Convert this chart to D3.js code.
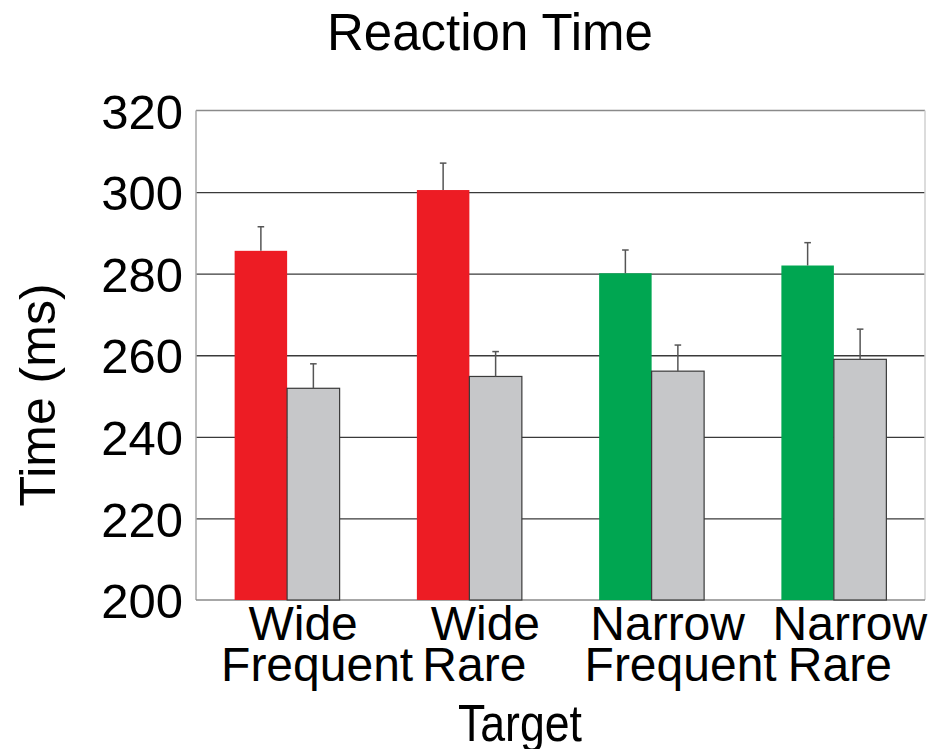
<!DOCTYPE html>
<html>
<head>
<meta charset="utf-8">
<script src="https://cdn.jsdelivr.net/npm/d3@7"></script>
<style>
  html, body { margin: 0; padding: 0; background: #fff; }
  svg { display: block; font-family: "Liberation Sans", Arial, Helvetica, sans-serif; }
</style>
</head>
<body>
<svg id="chart" width="941" height="749"></svg>
<script>
// ---- data ----
const categoryLine1 = ["Wide", "Wide", "Narrow", "Narrow"];
const categoryLine2 = ["Frequent", "Rare", "Frequent", "Rare"];
const targetValues = [285.6, 300.5, 280.1, 282.0];
const targetErrors = [5.9, 6.6, 5.7, 5.6];
const otherValues = [251.9, 254.8, 256.1, 259.0];
const otherErrors = [6.0, 6.1, 6.4, 7.4];
const targetColors = ["#ed1c24", "#ed1c24", "#00a651", "#00a651"];
const yTicks = [200, 220, 240, 260, 280, 300, 320];
const titleText = "Reaction Time";
const yLabelText = "Time (ms)";
const xLabelText = "Target";

// ---- layout ----
const plotLeft = 196, plotRight = 925, plotTop = 110.5, plotBottom = 600;
const line2Dx = [30, 5, 29, 6];

const svg = d3.select("#chart");

const x = d3.scaleBand().domain(d3.range(categoryLine1.length)).range([plotLeft, plotRight]).padding(0);
const xi = d3.scaleBand().domain(["target", "other"]).range([0, x.bandwidth()]).paddingInner(0).paddingOuter(0.736);
const y = d3.scaleLinear().domain([200, 320]).range([plotBottom, plotTop]);

// gridlines
const grid = svg.append("g").attr("transform", `translate(${plotLeft},0)`)
  .call(d3.axisLeft(y).tickValues(yTicks.filter(t => t > 200 && t < 320)).tickSize(-(plotRight - plotLeft)).tickFormat(""));
grid.select(".domain").remove();
grid.selectAll("line").attr("stroke", "#3a3a3a").attr("stroke-width", 1.3);

// frame
svg.append("line").attr("x1", plotLeft).attr("x2", plotRight).attr("y1", y(320)).attr("y2", y(320)).attr("stroke", "#8a8a8a").attr("stroke-width", 1.5);
svg.append("line").attr("x1", plotLeft).attr("x2", plotLeft).attr("y1", y(320)).attr("y2", y(200)).attr("stroke", "#a8a8a8").attr("stroke-width", 1.5);
svg.append("line").attr("x1", plotRight).attr("x2", plotRight).attr("y1", y(320)).attr("y2", y(200)).attr("stroke", "#d0d0d0").attr("stroke-width", 1.5);
svg.append("line").attr("x1", plotLeft).attr("x2", plotRight).attr("y1", y(200)).attr("y2", y(200)).attr("stroke", "#8a8a8a").attr("stroke-width", 1.5);

const rows = d3.range(categoryLine1.length).map(i => ({
  i,
  t: targetValues[i], te: targetErrors[i],
  o: otherValues[i], oe: otherErrors[i],
  c: targetColors[i]
}));

const g = svg.append("g");
// target bars
g.selectAll("rect.t").data(rows).join("rect").attr("class", "t")
  .attr("x", d => x(d.i) + xi("target"))
  .attr("width", xi.bandwidth())
  .attr("y", d => y(d.t))
  .attr("height", d => y(200) - y(d.t))
  .attr("fill", d => d.c);
// other bars
g.selectAll("rect.o").data(rows).join("rect").attr("class", "o")
  .attr("x", d => x(d.i) + xi("other"))
  .attr("width", xi.bandwidth())
  .attr("y", d => y(d.o))
  .attr("height", d => y(200) - y(d.o))
  .attr("fill", "#c6c7c9")
  .attr("stroke", "#3a3a3a")
  .attr("stroke-width", 1.2);

// error bars
const errs = [];
rows.forEach(d => {
  errs.push({ cx: x(d.i) + xi("target") + xi.bandwidth() / 2, v: d.t, e: d.te });
  errs.push({ cx: x(d.i) + xi("other") + xi.bandwidth() / 2, v: d.o, e: d.oe });
});
const eg = g.selectAll("g.err").data(errs).join("g").attr("class", "err");
eg.append("line")
  .attr("x1", d => d.cx).attr("x2", d => d.cx)
  .attr("y1", d => y(d.v)).attr("y2", d => y(d.v + d.e))
  .attr("stroke", "#555").attr("stroke-width", 1.5);
eg.append("line")
  .attr("x1", d => d.cx - 3.3).attr("x2", d => d.cx + 3.3)
  .attr("y1", d => y(d.v + d.e)).attr("y2", d => y(d.v + d.e))
  .attr("stroke", "#555").attr("stroke-width", 1.5);

// y tick labels
const yAxis = svg.append("g").attr("transform", `translate(${plotLeft},0)`)
  .call(d3.axisLeft(y).tickValues(yTicks).tickSize(0).tickPadding(13).tickFormat(d3.format("d")));
yAxis.select(".domain").remove();
yAxis.selectAll("text")
  .attr("font-size", 49)
  .attr("font-family", "Liberation Sans, Arial, sans-serif")
  .attr("fill", "#000")
  .attr("dy", "0.36em");

// x category labels
const xl = svg.append("g");
xl.selectAll("text.l1").data(rows).join("text").attr("class", "l1")
  .attr("x", d => x(d.i) + x.bandwidth() / 2 + 16)
  .attr("y", 640)
  .attr("text-anchor", "middle").attr("font-size", 48).attr("fill", "#000")
  .text(d => categoryLine1[d.i]);
xl.selectAll("text.l2").data(rows).join("text").attr("class", "l2")
  .attr("x", d => x(d.i) + x.bandwidth() / 2 + line2Dx[d.i])
  .attr("y", 681)
  .attr("text-anchor", "middle").attr("font-size", 48).attr("fill", "#000")
  .text(d => categoryLine2[d.i]);

// axis title
svg.append("text").attr("x", 520).attr("y", 741).attr("text-anchor", "middle")
  .attr("font-size", 52).attr("textLength", 124).attr("lengthAdjust", "spacingAndGlyphs")
  .attr("fill", "#000").text(xLabelText);

svg.append("text").attr("transform", "translate(55,395) rotate(-90)")
  .attr("text-anchor", "middle").attr("font-size", 50).attr("fill", "#000").text(yLabelText);

// title
svg.append("text").attr("x", 490).attr("y", 50).attr("text-anchor", "middle")
  .attr("font-size", 51).attr("fill", "#000").text(titleText);
</script>
</body>
</html>
